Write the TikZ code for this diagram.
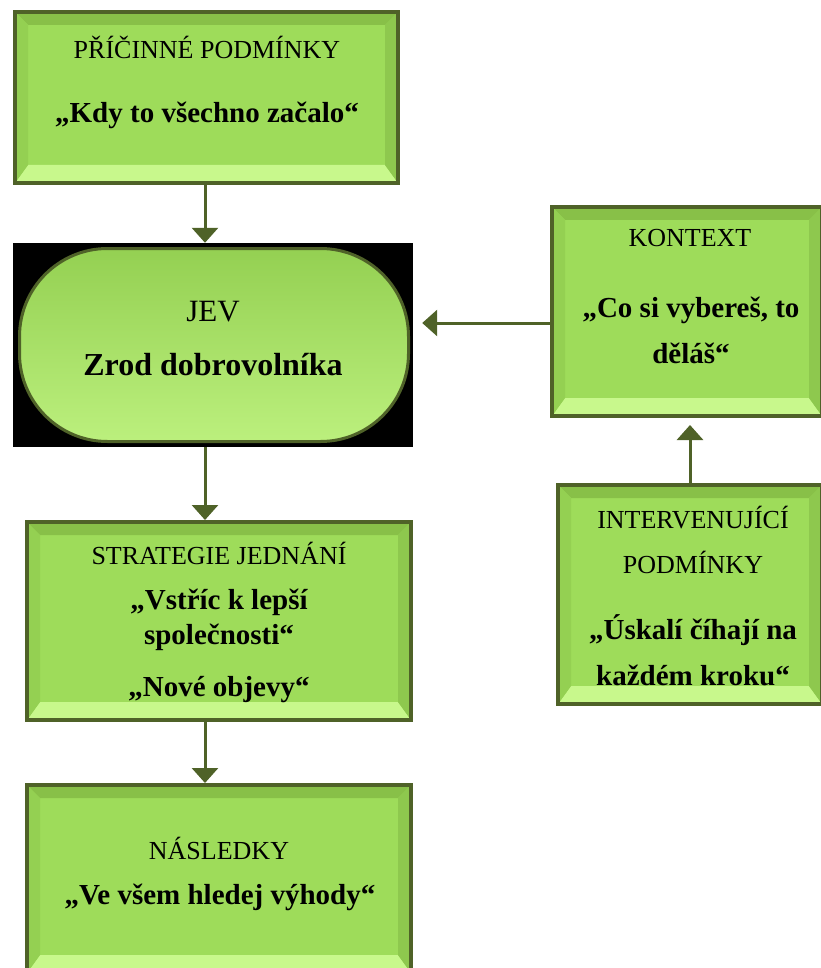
\documentclass[tikz,border=0pt]{standalone}
\usepackage{fontspec}
\setmainfont{Liberation Serif}
\usetikzlibrary{arrows.meta,positioning,calc}
\definecolor{olivedark}{RGB}{79,98,40}
\definecolor{leafgreen}{RGB}{158,220,90}
\definecolor{leaftop}{RGB}{136,192,72}
\definecolor{leafside}{RGB}{148,208,82}
\definecolor{leafright}{RGB}{142,200,78}
\definecolor{leaflight}{RGB}{200,248,140}

% bevelled faces of a box, drawn inside its path
\newcommand{\bevelfaces}{%
  \path (path picture bounding box.north west) coordinate (bnw)
        (path picture bounding box.north east) coordinate (bne)
        (path picture bounding box.south west) coordinate (bsw)
        (path picture bounding box.south east) coordinate (bse);
  \fill[leaftop] (bnw) -- (bne) -- ([xshift=-13pt,yshift=-13pt]bne) -- ([xshift=13pt,yshift=-13pt]bnw) -- cycle;
  \fill[leaflight] (bsw) -- (bse) -- ([xshift=-13pt,yshift=18pt]bse) -- ([xshift=13pt,yshift=18pt]bsw) -- cycle;
  \fill[leafside] (bnw) -- ([xshift=13pt,yshift=-13pt]bnw) -- ([xshift=13pt,yshift=18pt]bsw) -- (bsw) -- cycle;
  \fill[leafright] (bne) -- ([xshift=-13pt,yshift=-13pt]bne) -- ([xshift=-13pt,yshift=18pt]bse) -- (bse) -- cycle;
}

\begin{document}
\begin{tikzpicture}[x=1pt, y=-1pt,
  box/.style={draw=olivedark, line width=4pt, fill=leafgreen, inner sep=0pt,
              path picture={\bevelfaces}},
  pill/.style={draw=olivedark, line width=3pt, rounded corners=88pt, inner sep=0pt,
               top color=leafside, middle color=leafgreen, bottom color=leaflight!70!leafgreen},
  ttl/.style={font=\fontsize{26}{45}\selectfont, align=center, inner sep=0pt},
  qt/.style={font=\bfseries\fontsize{29}{46}\selectfont, align=center, inner sep=0pt},
  arr/.style={-{Triangle[width=26pt,length=15pt]}, line width=3pt, olivedark}
]
\useasboundingbox (0,0) rectangle (820,968);

% boxes
\node[box, minimum width=383pt, minimum height=171pt] (cause) at (206.5,97.5) {};
\node[fill=black, minimum width=400pt, minimum height=204pt, inner sep=0pt] (jevbg) at (213,345) {};
\node[pill, minimum width=389pt, minimum height=193pt] (jev) at (214,345) {};
\node[box, minimum width=270pt, minimum height=209pt] (context) at (687,311.5) {};
\node[box, minimum width=264pt, minimum height=219pt] (interv) at (690,594.5) {};
\node[box, minimum width=384pt, minimum height=198pt] (strat) at (219,621) {};
\node[box, minimum width=384pt, minimum height=188pt] (cons) at (219,879) {};

% texts
\node[ttl] (causettl) at (207,47) {PŘÍČINNÉ PODMÍNKY};
\node[qt] (causeqt) at (207,115) {„Kdy to všechno začalo“};
\node[ttl, font=\fontsize{31}{45}\selectfont] (jevttl) at (213,312) {JEV};
\node[qt, font=\bfseries\fontsize{32}{46}\selectfont] (jevqt) at (213,365) {Zrod dobrovolníka};
\node[ttl] (contextttl) at (690,238) {KONTEXT};
\node[qt] (contextqt) at (691,330) {„Co si vybereš, to\\děláš“};
\node[ttl] (intervttl) at (693,539.5) {INTERVENUJÍCÍ\\PODMÍNKY};
\node[qt] (intervqt) at (693,650) {„Úskalí číhají na\\každém kroku“};
\node[ttl] (stratttl) at (219,553) {STRATEGIE JEDNÁNÍ};
\node[qt, font=\bfseries\fontsize{29}{35}\selectfont] (stratqt) at (219,619.5) {„Vstříc k lepší\\společnosti“};
\node[qt] (stratqtb) at (219,690) {„Nové objevy“};
\node[ttl] (consttl) at (219,848) {NÁSLEDKY};
\node[qt] (consqt) at (220,897) {„Ve všem hledej výhody“};

% connectors
\coordinate (axis) at (205,0);
\coordinate (hbar) at (0,323);
\coordinate (vbar) at (690,0);
\draw[arr] (cause.south -| axis) -- (jevbg.north -| axis);
\draw[arr] (jevbg.south -| axis) -- (strat.north -| axis);
\draw[arr] (strat.south -| axis) -- (cons.north -| axis);
\draw[arr] (context.west |- hbar) -- ([xshift=9pt]jevbg.east |- hbar);
\draw[arr] (interv.north -| vbar) -- ([yshift=-7pt]context.south -| vbar);
\end{tikzpicture}
\end{document}
